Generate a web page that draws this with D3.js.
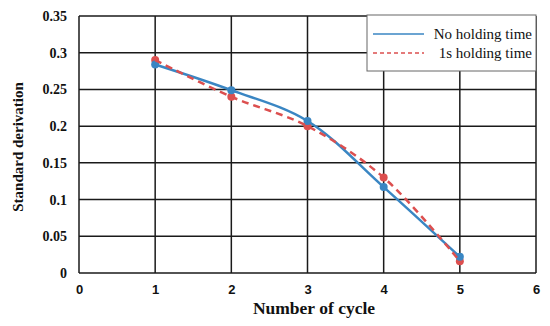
<!DOCTYPE html>
<html>
<head>
<meta charset="utf-8">
<script src="https://cdn.jsdelivr.net/npm/d3@7"></script>
<style>
  body { margin: 0; background: #fff; }
  svg { display: block; }
</style>
</head>
<body>
<div id="chart"></div>
<script>
// Chart data
var cycles = [1, 2, 3, 4, 5];
var noHolding = [0.284, 0.249, 0.207, 0.117, 0.022];
var oneSecHolding = [0.290, 0.240, 0.200, 0.130, 0.016];
var xTicks = [0, 1, 2, 3, 4, 5, 6];
var yTicks = [0, 0.05, 0.1, 0.15, 0.2, 0.25, 0.3, 0.35];
var seriesNames = ["No holding time", "1s holding time"];

var width = 550, height = 326;
var margin = { top: 16, right: 14, bottom: 53, left: 79 };
var innerW = width - margin.left - margin.right;
var innerH = height - margin.top - margin.bottom;

var svg = d3.select("#chart").append("svg")
  .attr("width", width)
  .attr("height", height);

var g = svg.append("g")
  .attr("transform", "translate(" + margin.left + "," + margin.top + ")");

var x = d3.scaleLinear().domain([0, 6]).range([0, innerW]);
var y = d3.scaleLinear().domain([0, 0.35]).range([innerH, 0]);

// Grid lines
g.selectAll(".hgrid").data(yTicks).enter().append("line")
  .attr("x1", 0).attr("x2", innerW)
  .attr("y1", function (d) { return y(d); })
  .attr("y2", function (d) { return y(d); })
  .attr("stroke", "#1a1a1a").attr("stroke-width", 1.5);

g.selectAll(".vgrid").data(xTicks).enter().append("line")
  .attr("y1", 0).attr("y2", innerH)
  .attr("x1", function (d) { return x(d); })
  .attr("x2", function (d) { return x(d); })
  .attr("stroke", "#1a1a1a").attr("stroke-width", 1.5);

// Y axis tick labels
var yAxis = d3.axisLeft(y).tickValues(yTicks).tickSize(0).tickPadding(12)
  .tickFormat(function (d) { return d === 0 ? "0" : String(+d.toFixed(2)); });
var yG = g.append("g").call(yAxis);
yG.select(".domain").remove();
yG.selectAll("text")
  .attr("font-family", "'Liberation Serif', 'Times New Roman', serif")
  .attr("font-weight", "bold")
  .attr("font-size", 14)
  .attr("fill", "#111");

// X axis tick labels
var xAxis = d3.axisBottom(x).tickValues(xTicks).tickSize(0).tickPadding(12)
  .tickFormat(d3.format("d"));
var xG = g.append("g").attr("transform", "translate(0," + innerH + ")").call(xAxis);
xG.select(".domain").remove();
xG.selectAll("text")
  .attr("font-family", "'Liberation Sans', Arial, sans-serif")
  .attr("font-weight", "bold")
  .attr("font-size", 13)
  .attr("fill", "#111");

// Axis titles
svg.append("text")
  .attr("x", 314)
  .attr("y", 314)
  .attr("text-anchor", "middle")
  .attr("font-family", "'Liberation Serif', 'Times New Roman', serif")
  .attr("font-weight", "bold")
  .attr("font-size", 17.5)
  .attr("fill", "#111")
  .text("Number of cycle");

svg.append("text")
  .attr("transform", "translate(23," + 147 + ") rotate(-90)")
  .attr("text-anchor", "middle")
  .attr("font-family", "'Liberation Serif', 'Times New Roman', serif")
  .attr("font-weight", "bold")
  .attr("font-size", 15)
  .attr("fill", "#111")
  .text("Standard derivation");

// Series
var blue = "#3a86c3", red = "#dc4f4f";
var line = d3.line()
  .x(function (d) { return x(d[0]); })
  .y(function (d) { return y(d[1]); })
  .curve(d3.curveCatmullRom.alpha(0.5));

var blueData = cycles.map(function (c, i) { return [c, noHolding[i]]; });
var redData = cycles.map(function (c, i) { return [c, oneSecHolding[i]]; });

g.selectAll(".dot-red").data(redData).enter().append("circle")
  .attr("cx", function (d) { return x(d[0]); })
  .attr("cy", function (d) { return y(d[1]); })
  .attr("r", 4).attr("fill", red);

g.selectAll(".dot-blue").data(blueData).enter().append("circle")
  .attr("cx", function (d) { return x(d[0]); })
  .attr("cy", function (d) { return y(d[1]); })
  .attr("r", 4).attr("fill", blue);

g.append("path").datum(blueData)
  .attr("d", line).attr("fill", "none")
  .attr("stroke", blue).attr("stroke-width", 2.5);

g.append("path").datum(redData)
  .attr("d", line).attr("fill", "none")
  .attr("stroke", red).attr("stroke-width", 2.5)
  .attr("stroke-dasharray", "7,5");

// Legend
var legend = svg.append("g").attr("transform", "translate(367,15)");
legend.append("rect")
  .attr("width", 169).attr("height", 56)
  .attr("fill", "#fff").attr("stroke", "#666").attr("stroke-width", 1);

var legendItems = [
  { name: seriesNames[0], color: blue, dash: null },
  { name: seriesNames[1], color: red, dash: "4,3" }
];
legendItems.forEach(function (d, i) {
  var ly = 19 + i * 19;
  legend.append("line")
    .attr("x1", 6).attr("x2", 57).attr("y1", ly).attr("y2", ly)
    .attr("stroke", d.color).attr("stroke-width", 1.5)
    .attr("stroke-dasharray", d.dash);
  legend.append("text")
    .attr("x", 165).attr("y", ly + 5)
    .attr("text-anchor", "end")
    .attr("font-family", "'Liberation Serif', 'Times New Roman', serif")
    .attr("font-size", 15)
    .attr("fill", "#111")
    .text(d.name);
});
</script>
</body>
</html>
